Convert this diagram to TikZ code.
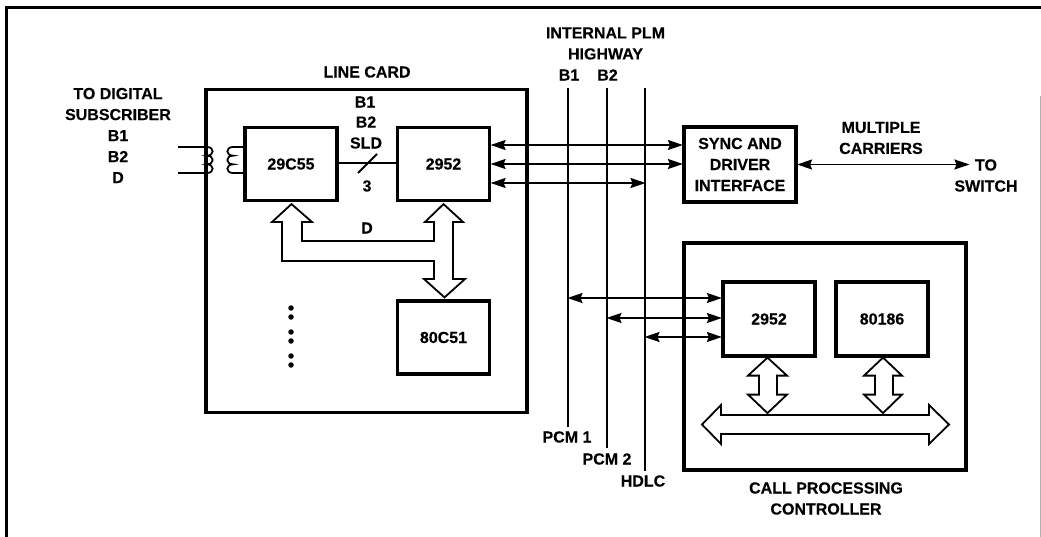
\documentclass[tikz,border=0pt]{standalone}
\usepackage{fontspec}
\setmainfont[BoldFeatures={FakeBold=0.25}]{Liberation Sans}
\usetikzlibrary{arrows.meta,calc}
\tikzset{
 txtfont/.style={font=\fontsize{16}{21}\selectfont\bfseries},
 lbl/.style={txtfont,inner sep=0pt,align=center},
 chip/.style={draw,line width=3.2pt,minimum width=92pt,minimum height=73pt,inner sep=0pt,align=center,txtfont},
 container/.style={draw,line width=3.2pt,inner sep=0pt},
 bus/.style={line width=2pt},
 thinwire/.style={line width=1.8pt},
 sig/.style={line width=1.7pt,{Stealth[length=15pt,width=10pt,inset=2pt]}-{Stealth[length=15pt,width=10pt,inset=2pt]},shorten <=-0.5pt,shorten >=-0.5pt},
 fat/.style={line width=1.8pt,fill=white,line join=miter},
 dotmark/.style={circle,fill=black,inner sep=0pt,minimum size=5.5pt},
}
\begin{document}
\begin{tikzpicture}[x=1pt,y=-1pt]
\useasboundingbox (0,0) rectangle (1041,537);
\coordinate (fa) at (6.5,537); \coordinate (fb) at (6.5,7.5); \coordinate (fc) at (1041,7.5);
\coordinate (fd) at (1040.5,96); \coordinate (fe) at (1040.5,537);
\draw[line width=2.6pt] (fa) -- (fb) -- (fc);
\draw[line width=0.8pt,black!30] (fd) -- (fe);
% containers
\node[container,minimum width=321pt,minimum height=323pt] (lc) at (366.5,251) {};
\node[container,minimum width=282pt,minimum height=227pt] (cp) at (825,356.5) {};
\node[chip] (codec) at (291,164) {29C55};
\node[chip] (mlc) at (443.5,164) {2952};
\node[chip] (uc) at (443.5,337.5) {80C51};
\node[chip,minimum width=112pt,minimum height=75pt] (sync) at (740,164.5) {SYNC AND\\DRIVER\\INTERFACE};
\node[chip,minimum height=74pt] (mlb) at (769,319) {2952};
\node[chip,minimum height=74pt] (cpu) at (882,319) {80186};
% text
\node[lbl] (tds) at (118,135.5) {TO DIGITAL\\SUBSCRIBER\\B1\\B2\\D};
\node[lbl] (tlc) at (367,72) {LINE CARD};
\node[lbl] (tb1) at (365,102) {B1};
\node[lbl] (tb2) at (366,122) {B2};
\node[lbl] (tsl) at (366,143) {SLD};
\node[lbl] (tn3) at (367,186) {3};
\node[lbl] (tdd) at (367,228) {D};
\node[lbl] (tih) at (605.5,43.5) {INTERNAL PLM\\HIGHWAY};
\node[lbl] (thb1) at (569,75) {B1};
\node[lbl] (thb2) at (607.5,75) {B2};
\node[lbl] (tmc) at (881,138) {MULTIPLE\\CARRIERS};
\node[lbl] (tsw) at (986,175.5) {TO\\SWITCH};
\node[lbl] (tcp) at (826,498.5) {CALL PROCESSING\\CONTROLLER};
\node[lbl] (tp1) at (567,437) {PCM 1};
\node[lbl] (tp2) at (607,459) {PCM 2};
\node[lbl] (thd) at (643,481) {HDLC};
% highway lines
\coordinate (p1t) at (568,88); \coordinate (p1b) at (568,427);
\coordinate (p2t) at (607,88); \coordinate (p2b) at (607,448);
\coordinate (p3t) at (645,88); \coordinate (p3b) at (645,471);
\draw[bus] (p1t) -- (p1b);
\draw[bus] (p2t) -- (p2b);
\draw[bus] (p3t) -- (p3b);
% line card to highway / sync
\draw[sig] ([yshift=19pt]mlc.east) -- ([yshift=19pt]mlc.east -| sync.west);
\draw[sig] (mlc.east) -- (mlc.east -| sync.west);
\draw[sig] ([yshift=-19pt]mlc.east) -- ([yshift=-19pt]mlc.east -| p3t);
% sync to switch
\coordinate (swt) at (969,164.5);
\draw[sig] (sync.east) -- (swt);
% call processing links
\draw[sig] ([yshift=21pt]mlb.west -| p1t) -- ([yshift=21pt]mlb.west);
\draw[sig] ([yshift=1pt]mlb.west -| p2t) -- ([yshift=1pt]mlb.west);
\draw[sig] ([yshift=-18pt]mlb.west -| p3t) -- ([yshift=-18pt]mlb.west);
% codec to 2952
\draw[thinwire] ([yshift=1pt]codec.east) -- ([yshift=1pt]mlc.west);
\coordinate (sla) at (358,173); \coordinate (slb) at (377,154);
\draw[thinwire] (sla) -- (slb);
% transformer
\coordinate (wa) at (178,147); \coordinate (wb) at (178,173);
\draw[thinwire] (wa) -- (207,147)
  .. controls +(7.5,0) and +(7.5,0) .. ++(0,8.67)
  .. controls +(7.5,0) and +(7.5,0) .. ++(0,8.67)
  .. controls +(7.5,0) and +(7.5,0) .. ++(0,8.66) -- (wb);
\draw[thinwire] ([yshift=17pt]codec.west) -- (233,147)
  .. controls +(-7.5,0) and +(-7.5,0) .. ++(0,8.67)
  .. controls +(-7.5,0) and +(-7.5,0) .. ++(0,8.67)
  .. controls +(-7.5,0) and +(-7.5,0) .. ++(0,8.66) -- ([yshift=-9pt]codec.west);
% fat bus line card
\draw[fat] ([xshift=0.5pt,yshift=-2pt]codec.south) -- (312,222) -- (302,222) -- (302,241) -- (434,241) -- (434,222) -- (425,222)
  -- ([yshift=-2pt]mlc.south) -- (463,222) -- (453,222) -- (453,279) -- (465,279)
  -- ([xshift=1pt,yshift=2pt]uc.north) -- (424,279) -- (434,279) -- (434,261) -- (282,261) -- (282,222) -- (272,222) -- cycle;
% fat arrows in call processing controller
\draw[fat] ([xshift=-1.5pt]mlb.south) -- ++(19.5,18) -- ++(-10,0) -- ++(0,19) -- ++(10,0) -- ++(-19.5,18.5) -- ++(-19.5,-18.5) -- ++(11,0) -- ++(0,-19) -- ++(-11,0) -- cycle;
\draw[fat] ([xshift=1pt]cpu.south) -- ++(19,18) -- ++(-9,0) -- ++(0,19) -- ++(9,0) -- ++(-19,18.5) -- ++(-19,-18.5) -- ++(11,0) -- ++(0,-19) -- ++(-11,0) -- cycle;
% horizontal bus
\coordinate (hl) at (702,424.5); \coordinate (hr) at (949,424.5);
\draw[fat] (hl) -- (721,405) -- (721,415) -- (929,415) -- (929,405) -- (hr) -- (929,444) -- (929,434) -- (721,434) -- (721,444) -- cycle;
% dots
\foreach \n/\y in {a/308,b/317,c/332,d/341,e/356,f/365} \node[dotmark] (dot\n) at (291,\y) {};
\end{tikzpicture}
\end{document}
